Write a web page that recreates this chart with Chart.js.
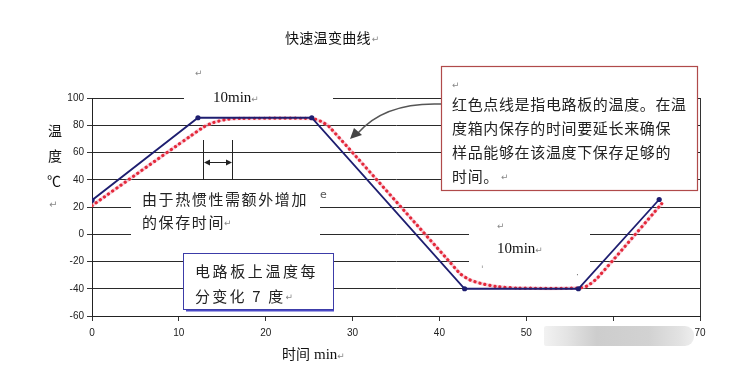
<!DOCTYPE html>
<html><head><meta charset="utf-8">
<script src="https://cdn.jsdelivr.net/npm/chart.js@4/dist/chart.umd.min.js"></script>
<style>html,body{margin:0;padding:0;background:#fff;}canvas{display:block;}</style>
</head><body>
<canvas id="c" width="729" height="372"></canvas>
<script>
// Chamber setpoint (blue) and circuit-board temperature (red dotted)
const chamberTime = [0, 12.2, 25.3, 42.9, 56.0, 65.3];
const chamberTemp = [25, 85.5, 85.5, -40, -40, 25.5];
const boardTime = [0, 12.8, 14, 15.5, 17, 25.3, 26.3, 27.3, 41, 42.4, 43.5, 44.7, 46.5, 49, 56, 57, 58.2, 65.6];
const boardTemp = [21, 78.5, 82, 84.3, 85, 85, 83, 79, -19, -29, -33.5, -36, -38.3, -39.5, -39.5, -38, -32, 22.5];
const xTicks = [0, 10, 20, 30, 40, 50, 60, 70];
const yTicks = [-60, -40, -20, 0, 20, 40, 60, 80, 100];

const CJK = '"Noto Sans CJK SC","DejaVu Sans",sans-serif';
const SERIF = '"Liberation Serif","DejaVu Serif",serif';

function txt(ctx, s, x, y, font, color, spacing) {
  ctx.save();
  ctx.font = font;
  ctx.fillStyle = color || '#111';
  ctx.textBaseline = 'middle';
  ctx.textAlign = 'left';
  if (spacing) ctx.letterSpacing = spacing + 'px';
  ctx.fillText(s, x, y);
  const w = ctx.measureText(s).width;
  ctx.restore();
  return x + w;
}
function ret(ctx, x, y, size) { // paragraph mark
  return txt(ctx, '↵', x, y, (size || 10) + 'px "DejaVu Sans",sans-serif', '#888');
}

const bgPlugin = {
  id: 'bg',
  beforeDatasetsDraw(chart) {
    const ctx = chart.ctx;
    ctx.save();
    ctx.fillStyle = '#fff';
    ctx.fillRect(184, 88, 149, 20);   // around top "10min"
    ctx.fillRect(131, 186, 189, 58);  // around inertia note
    ctx.fillRect(469, 220, 121, 56);  // around bottom "10min"
    // right border of plot area
    const a = chart.chartArea;
    ctx.strokeStyle = '#333'; ctx.lineWidth = 1;
    ctx.beginPath(); ctx.moveTo(a.right + 0.5, a.top); ctx.lineTo(a.right + 0.5, a.bottom); ctx.stroke();
    // hold-time marker
    ctx.strokeStyle = '#222'; ctx.lineWidth = 1;
    ctx.beginPath();
    ctx.moveTo(203.5, 140); ctx.lineTo(203.5, 180);
    ctx.moveTo(232.5, 140); ctx.lineTo(232.5, 180);
    ctx.moveTo(205, 162.5); ctx.lineTo(231, 162.5);
    ctx.stroke();
    ctx.fillStyle = '#222';
    ctx.beginPath(); ctx.moveTo(204, 162.5); ctx.lineTo(210, 159.5); ctx.lineTo(210, 165.5); ctx.fill();
    ctx.beginPath(); ctx.moveTo(232, 162.5); ctx.lineTo(226, 159.5); ctx.lineTo(226, 165.5); ctx.fill();
    ctx.restore();
  },
  afterDraw(chart) {
    const ctx = chart.ctx;
    // Title
    let e = txt(ctx, '快速温变曲线', 285, 38, '14px ' + CJK, '#111', 0.3);
    ret(ctx, e + 1, 40, 9);
    // Y-axis title (stacked)
    txt(ctx, '温', 48, 131, '14px ' + CJK, '#111');
    txt(ctx, '度', 48, 156, '14px ' + CJK, '#111');
    txt(ctx, '℃', 47, 181, '14px ' + CJK, '#111');
    ret(ctx, 49, 205, 10);
    // X-axis title
    e = txt(ctx, '时间', 282, 354, '14px ' + CJK, '#111');
    e = txt(ctx, 'min', e + 4, 355, '15px ' + SERIF, '#111');
    ret(ctx, e, 357, 9);
    // top 10min
    ret(ctx, 195, 74, 9);
    e = txt(ctx, '10min', 213, 98, '15px ' + SERIF, '#111');
    ret(ctx, e, 100, 9);
    // bottom 10min
    ret(ctx, 497, 227, 9);
    e = txt(ctx, '10min', 497, 249, '15px ' + SERIF, '#111');
    ret(ctx, e, 251, 9);
    txt(ctx, 'ˈ', 481, 270, '9px "DejaVu Sans"', '#777');
    txt(ctx, '·', 576, 276, '9px "DejaVu Sans"', '#777');
    // inertia note
    txt(ctx, '由于热惯性需额外增加', 142, 199, '15px ' + CJK, '#222', 1.6);
    e = txt(ctx, '的保存时间', 142, 222, '15px ' + CJK, '#222', 1.6);
    ret(ctx, e - 1, 224, 9);
    txt(ctx, 'e', 320, 195, '11px "DejaVu Sans"', '#555');

    // Red annotation box
    ctx.save();
    ctx.fillStyle = '#fff';
    ctx.fillRect(441, 66, 257, 124);
    ctx.strokeStyle = '#b04a4a'; ctx.lineWidth = 1.2;
    ctx.strokeRect(441.5, 66.5, 256, 124);
    ctx.restore();
    ret(ctx, 452, 86, 9);
    const sp = 0.65;
    txt(ctx, '红色点线是指电路板的温度。在温', 452, 104, '15px ' + CJK, '#222', sp);
    txt(ctx, '度箱内保存的时间要延长来确保', 452, 128, '15px ' + CJK, '#222', sp);
    txt(ctx, '样品能够在该温度下保存足够的', 452, 152, '15px ' + CJK, '#222', sp);
    e = txt(ctx, '时间。', 452, 176, '15px ' + CJK, '#222', sp);
    ret(ctx, e + 2, 178, 9);
    // callout arrow
    ctx.save();
    ctx.strokeStyle = '#555'; ctx.lineWidth = 1.5;
    ctx.beginPath(); ctx.moveTo(441, 104); ctx.quadraticCurveTo(385, 102, 358, 133); ctx.stroke();
    ctx.fillStyle = '#444';
    ctx.beginPath(); ctx.moveTo(350, 139); ctx.lineTo(354, 128); ctx.lineTo(362, 135); ctx.closePath(); ctx.fill();
    ctx.restore();

    // Blue annotation box
    ctx.save();
    ctx.fillStyle = '#4a4ac8';
    ctx.fillRect(186, 309, 148, 2.5);
    ctx.fillStyle = '#fff';
    ctx.fillRect(183, 253, 150, 56);
    ctx.strokeStyle = '#3c3ca8'; ctx.lineWidth = 1;
    ctx.strokeRect(183.5, 253.5, 150, 56);
    ctx.restore();
    txt(ctx, '电路板上温度每', 195, 271, '15px ' + CJK, '#222', 2.6);
    e = txt(ctx, '分变化 7 度', 195, 296, '15px ' + CJK, '#222', 2.2);
    ret(ctx, e, 298, 9);

    // blurred watermark over x labels
    ctx.save();
    const g = ctx.createLinearGradient(544, 0, 694, 0);
    g.addColorStop(0, '#f2f2f2');
    g.addColorStop(0.15, '#e4e4e4');
    g.addColorStop(0.35, '#cdcdcd');
    g.addColorStop(0.7, '#d2d2d2');
    g.addColorStop(0.9, '#e2e2e2');
    g.addColorStop(1, '#eeeeee');
    ctx.fillStyle = g;
    ctx.beginPath();
    ctx.roundRect(544, 326, 150, 20, [2, 9, 9, 2]);
    ctx.fill();
    ctx.restore();
  }
};

const chamberData = chamberTime.map((t, i) => ({x: t, y: chamberTemp[i]}));
const boardData = boardTime.map((t, i) => ({x: t, y: boardTemp[i]}));

new Chart(document.getElementById('c'), {
  type: 'line',
  data: {
    datasets: [
      { label: 'board halo', data: boardData, borderColor: 'rgba(240,165,185,0.5)', borderWidth: 3.5,
        pointRadius: 0, tension: 0.2, order: 3 },
      { label: 'board', data: boardData, borderColor: '#e4283a', borderWidth: 3.2, borderDash: [0.1, 5],
        borderCapStyle: 'round', pointRadius: 0, tension: 0.2, order: 2 },
      { label: 'chamber', data: chamberData, borderColor: '#1e1e70', borderWidth: 1.8,
        pointRadius: 2.6, pointBackgroundColor: '#1e1e70', pointBorderWidth: 0, tension: 0, order: 1 }
    ]
  },
  options: {
    responsive: false,
    animation: false,
    devicePixelRatio: 1,
    layout: { padding: { left: 0, top: 98, right: 29, bottom: 0 } },
    plugins: { legend: { display: false }, tooltip: { enabled: false }, title: { display: false } },
    scales: {
      x: {
        type: 'linear', min: 0, max: 70,
        afterBuildTicks: s => { s.ticks = xTicks.map(v => ({value: v})); },
        afterFit: s => { s.height = 56; },
        grid: { drawOnChartArea: false, drawTicks: true, tickLength: 5, color: '#333', tickColor: '#333' },
        border: { color: '#222', width: 1 },
        ticks: { color: '#222', font: { family: '"Liberation Sans",Arial,sans-serif', size: 10 }, padding: 6, maxRotation: 0 }
      },
      y: {
        min: -60, max: 100,
        afterBuildTicks: s => { s.ticks = yTicks.map(v => ({value: v})); },
        afterFit: s => { s.width = 92; },
        grid: { color: '#2a2a2a', lineWidth: 1, tickLength: 5, tickColor: '#333' },
        border: { color: '#222', width: 1 },
        ticks: { color: '#222', font: { family: '"Liberation Sans",Arial,sans-serif', size: 10 }, padding: 3 }
      }
    }
  },
  plugins: [bgPlugin]
});
</script>
</body></html>
